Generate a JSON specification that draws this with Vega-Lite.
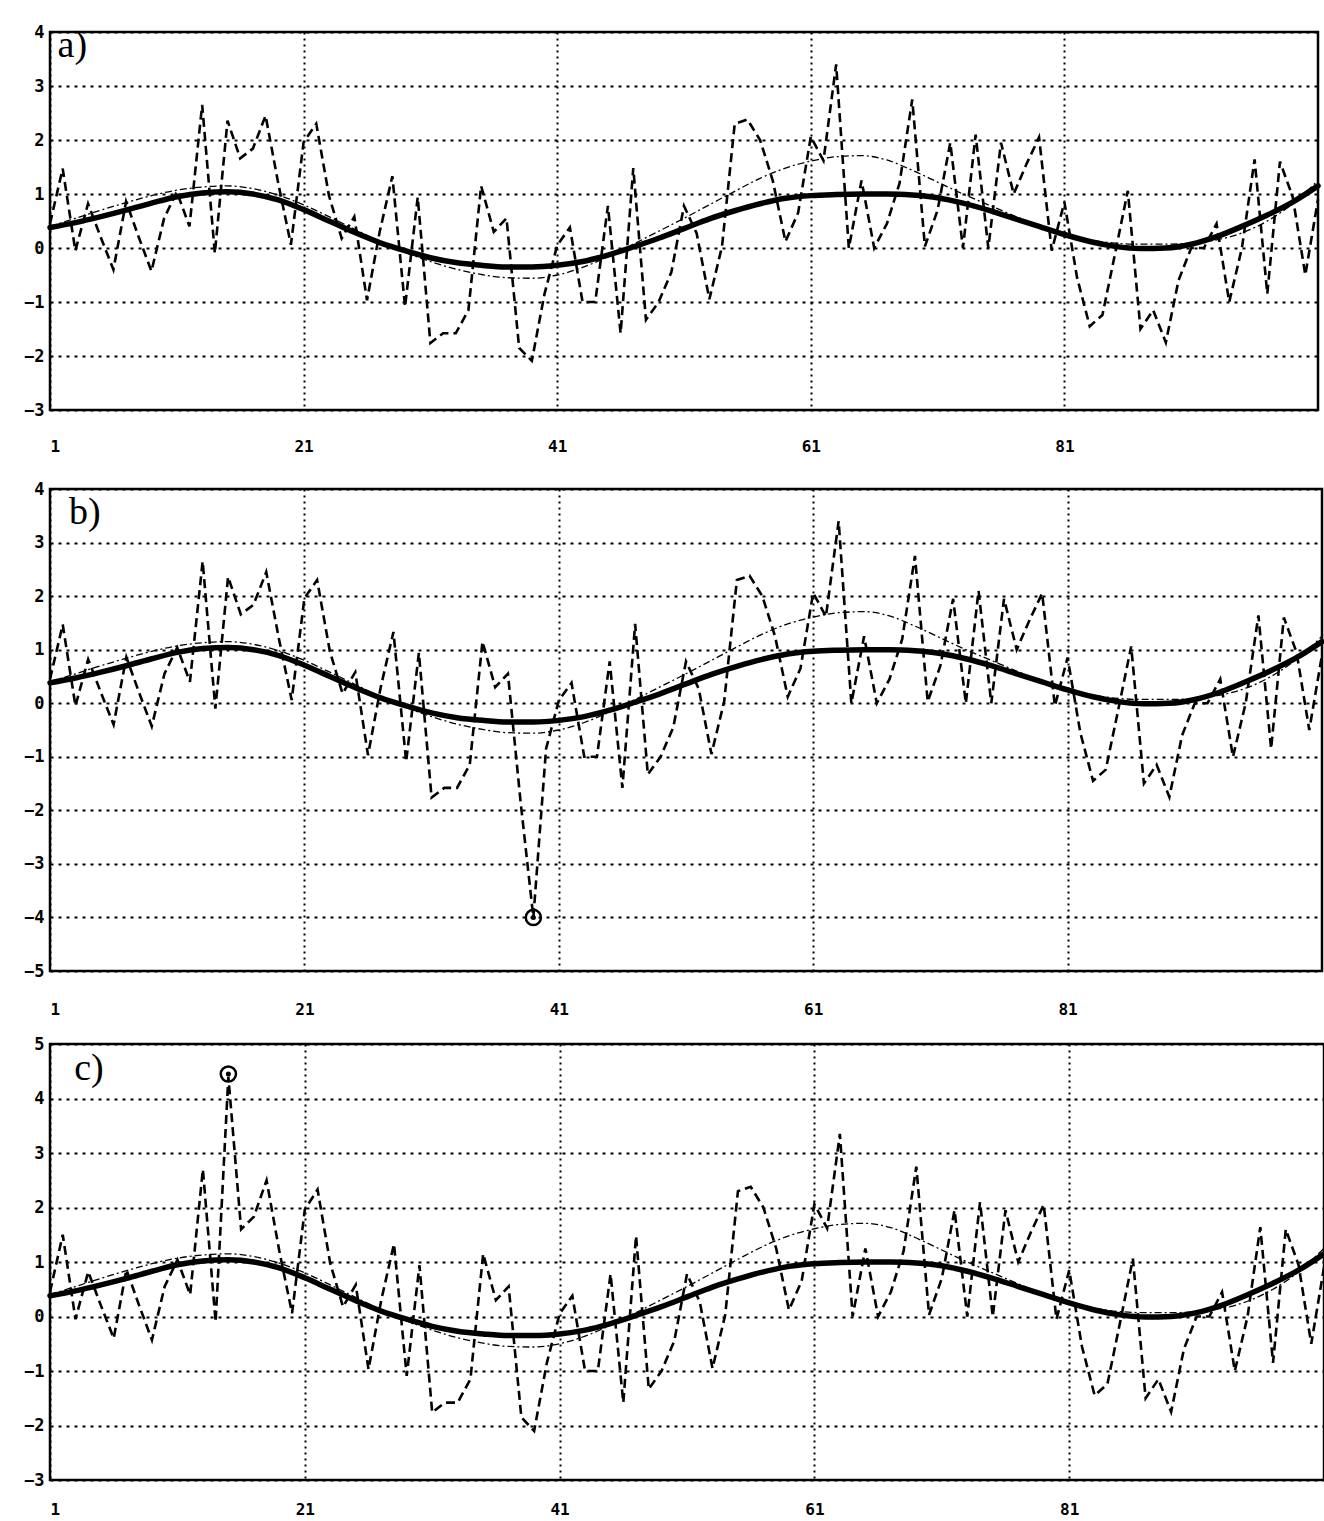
{
  "$schema": "https://vega.github.io/schema/vega-lite/v6.json",
  "background": "white",
  "padding": {"left": 4, "top": 21, "right": 0, "bottom": 0},
  "spacing": 14,
  "config": {
    "view": {"stroke": "black", "strokeWidth": 2.5},
    "axis": {
      "title": null,
      "grid": true,
      "gridColor": "black",
      "gridOpacity": 1,
      "gridWidth": 2,
      "domain": false,
      "ticks": false,
      "labelColor": "black",
      "labelFont": "DejaVu Sans Mono",
      "labelFontWeight": "bold",
      "format": "d"
    },
    "axisX": {"gridDash": [2, 4], "labelFontSize": 16, "labelFont": "DejaVu Sans Mono", "labelFontWeight": "bold"},
    "axisY": {"gridDash": [3, 5], "labelPadding": 6, "labelFontSize": 17, "labelFont": "DejaVu Sans Mono", "labelFontWeight": "bold"}
  },
  "datasets": {
    "noisy": [
      {"x":1,"a":0.45,"b":0.45,"c":0.45},
      {"x":2,"a":1.47,"b":1.47,"c":1.5},
      {"x":3,"a":-0.05,"b":-0.05,"c":-0.05},
      {"x":4,"a":0.82,"b":0.82,"c":0.82},
      {"x":5,"a":0.2,"b":0.2,"c":0.2},
      {"x":6,"a":-0.4,"b":-0.4,"c":-0.4},
      {"x":7,"a":0.86,"b":0.86,"c":0.86},
      {"x":8,"a":0.2,"b":0.2,"c":0.2},
      {"x":9,"a":-0.43,"b":-0.43,"c":-0.43},
      {"x":10,"a":0.55,"b":0.55,"c":0.55},
      {"x":11,"a":1.04,"b":1.04,"c":1.04},
      {"x":12,"a":0.4,"b":0.4,"c":0.4},
      {"x":13,"a":2.65,"b":2.65,"c":2.7},
      {"x":14,"a":-0.1,"b":-0.1,"c":-0.1},
      {"x":15,"a":2.36,"b":2.36,"c":4.4},
      {"x":16,"a":1.66,"b":1.66,"c":1.6},
      {"x":17,"a":1.84,"b":1.84,"c":1.83},
      {"x":18,"a":2.45,"b":2.45,"c":2.5},
      {"x":19,"a":1.2,"b":1.2,"c":1.2},
      {"x":20,"a":0.06,"b":0.06,"c":0.06},
      {"x":21,"a":1.96,"b":1.96,"c":1.96},
      {"x":22,"a":2.3,"b":2.3,"c":2.33},
      {"x":23,"a":0.97,"b":0.97,"c":0.97},
      {"x":24,"a":0.18,"b":0.18,"c":0.18},
      {"x":25,"a":0.58,"b":0.58,"c":0.58},
      {"x":26,"a":-0.97,"b":-0.97,"c":-0.97},
      {"x":27,"a":0.3,"b":0.3,"c":0.3},
      {"x":28,"a":1.33,"b":1.33,"c":1.33},
      {"x":29,"a":-1.09,"b":-1.09,"c":-1.09},
      {"x":30,"a":0.94,"b":0.94,"c":0.94},
      {"x":31,"a":-1.76,"b":-1.76,"c":-1.76},
      {"x":32,"a":-1.58,"b":-1.58,"c":-1.58},
      {"x":33,"a":-1.58,"b":-1.58,"c":-1.58},
      {"x":34,"a":-1.15,"b":-1.15,"c":-1.15},
      {"x":35,"a":1.15,"b":1.15,"c":1.15},
      {"x":36,"a":0.3,"b":0.3,"c":0.3},
      {"x":37,"a":0.55,"b":0.55,"c":0.55},
      {"x":38,"a":-1.85,"b":-1.85,"c":-1.85},
      {"x":39,"a":-2.09,"b":-4.0,"c":-2.1},
      {"x":40,"a":-0.85,"b":-0.85,"c":-0.85},
      {"x":41,"a":0.05,"b":0.05,"c":0.05},
      {"x":42,"a":0.38,"b":0.38,"c":0.38},
      {"x":43,"a":-1.0,"b":-1.0,"c":-1.0},
      {"x":44,"a":-1.0,"b":-1.0,"c":-1.0},
      {"x":45,"a":0.78,"b":0.78,"c":0.78},
      {"x":46,"a":-1.58,"b":-1.58,"c":-1.58},
      {"x":47,"a":1.48,"b":1.48,"c":1.48},
      {"x":48,"a":-1.33,"b":-1.33,"c":-1.33},
      {"x":49,"a":-1.0,"b":-1.0,"c":-1.0},
      {"x":50,"a":-0.45,"b":-0.45,"c":-0.45},
      {"x":51,"a":0.78,"b":0.78,"c":0.78},
      {"x":52,"a":0.27,"b":0.27,"c":0.27},
      {"x":53,"a":-0.95,"b":-0.95,"c":-0.95},
      {"x":54,"a":0.03,"b":0.03,"c":0.03},
      {"x":55,"a":2.3,"b":2.3,"c":2.3},
      {"x":56,"a":2.38,"b":2.38,"c":2.38},
      {"x":57,"a":2.0,"b":2.0,"c":2.0},
      {"x":58,"a":1.25,"b":1.25,"c":1.25},
      {"x":59,"a":0.12,"b":0.12,"c":0.12},
      {"x":60,"a":0.65,"b":0.65,"c":0.65},
      {"x":61,"a":2.06,"b":2.06,"c":2.06},
      {"x":62,"a":1.62,"b":1.62,"c":1.62},
      {"x":63,"a":3.4,"b":3.4,"c":3.35},
      {"x":64,"a":0.0,"b":0.0,"c":0.0},
      {"x":65,"a":1.25,"b":1.25,"c":1.25},
      {"x":66,"a":0.0,"b":0.0,"c":0.0},
      {"x":67,"a":0.45,"b":0.45,"c":0.45},
      {"x":68,"a":1.2,"b":1.2,"c":1.2},
      {"x":69,"a":2.75,"b":2.75,"c":2.75},
      {"x":70,"a":0.03,"b":0.03,"c":0.03},
      {"x":71,"a":0.7,"b":0.7,"c":0.7},
      {"x":72,"a":1.95,"b":1.95,"c":1.95},
      {"x":73,"a":0.0,"b":0.0,"c":0.0},
      {"x":74,"a":2.1,"b":2.1,"c":2.1},
      {"x":75,"a":0.0,"b":0.0,"c":0.0},
      {"x":76,"a":1.95,"b":1.95,"c":1.95},
      {"x":77,"a":1.0,"b":1.0,"c":1.0},
      {"x":78,"a":1.55,"b":1.55,"c":1.55},
      {"x":79,"a":2.05,"b":2.05,"c":2.05},
      {"x":80,"a":-0.05,"b":-0.05,"c":-0.05},
      {"x":81,"a":0.85,"b":0.85,"c":0.85},
      {"x":82,"a":-0.55,"b":-0.55,"c":-0.55},
      {"x":83,"a":-1.45,"b":-1.45,"c":-1.45},
      {"x":84,"a":-1.24,"b":-1.24,"c":-1.24},
      {"x":85,"a":-0.1,"b":-0.1,"c":-0.1},
      {"x":86,"a":1.06,"b":1.06,"c":1.06},
      {"x":87,"a":-1.5,"b":-1.5,"c":-1.5},
      {"x":88,"a":-1.15,"b":-1.15,"c":-1.15},
      {"x":89,"a":-1.75,"b":-1.75,"c":-1.75},
      {"x":90,"a":-0.6,"b":-0.6,"c":-0.6},
      {"x":91,"a":0.0,"b":0.0,"c":0.0},
      {"x":92,"a":0.0,"b":0.0,"c":0.0},
      {"x":93,"a":0.45,"b":0.45,"c":0.45},
      {"x":94,"a":-1.0,"b":-1.0,"c":-1.0},
      {"x":95,"a":0.0,"b":0.0,"c":0.0},
      {"x":96,"a":1.64,"b":1.64,"c":1.64},
      {"x":97,"a":-0.85,"b":-0.85,"c":-0.85},
      {"x":98,"a":1.6,"b":1.6,"c":1.6},
      {"x":99,"a":0.95,"b":0.95,"c":0.95},
      {"x":100,"a":-0.5,"b":-0.5,"c":-0.5},
      {"x":101,"a":0.9,"b":0.9,"c":0.9}
    ],
    "fit": [
      {"x":1,"thick":0.38,"thin":0.40},
      {"x":3,"thick":0.47,"thin":0.55},
      {"x":5,"thick":0.58,"thin":0.70},
      {"x":7,"thick":0.70,"thin":0.84},
      {"x":9,"thick":0.83,"thin":0.97},
      {"x":11,"thick":0.95,"thin":1.07},
      {"x":13,"thick":1.02,"thin":1.13},
      {"x":15,"thick":1.04,"thin":1.15},
      {"x":17,"thick":1.00,"thin":1.10},
      {"x":19,"thick":0.89,"thin":0.98},
      {"x":21,"thick":0.71,"thin":0.80},
      {"x":23,"thick":0.50,"thin":0.58},
      {"x":25,"thick":0.29,"thin":0.35},
      {"x":27,"thick":0.10,"thin":0.12},
      {"x":29,"thick":-0.05,"thin":-0.08},
      {"x":31,"thick":-0.18,"thin":-0.25},
      {"x":33,"thick":-0.27,"thin":-0.39},
      {"x":35,"thick":-0.32,"thin":-0.49},
      {"x":37,"thick":-0.35,"thin":-0.55},
      {"x":39,"thick":-0.35,"thin":-0.56},
      {"x":41,"thick":-0.32,"thin":-0.50},
      {"x":43,"thick":-0.25,"thin":-0.36},
      {"x":45,"thick":-0.13,"thin":-0.16},
      {"x":47,"thick":0.02,"thin":0.07},
      {"x":49,"thick":0.18,"thin":0.31},
      {"x":51,"thick":0.36,"thin":0.55},
      {"x":53,"thick":0.54,"thin":0.80},
      {"x":55,"thick":0.69,"thin":1.05},
      {"x":57,"thick":0.82,"thin":1.29},
      {"x":59,"thick":0.92,"thin":1.48},
      {"x":61,"thick":0.97,"thin":1.61},
      {"x":63,"thick":0.99,"thin":1.69},
      {"x":65,"thick":1.00,"thin":1.71},
      {"x":67,"thick":1.00,"thin":1.63},
      {"x":69,"thick":0.98,"thin":1.44},
      {"x":71,"thick":0.93,"thin":1.22},
      {"x":73,"thick":0.83,"thin":1.00},
      {"x":75,"thick":0.70,"thin":0.80},
      {"x":77,"thick":0.55,"thin":0.60},
      {"x":79,"thick":0.40,"thin":0.41},
      {"x":81,"thick":0.25,"thin":0.26},
      {"x":83,"thick":0.12,"thin":0.15},
      {"x":85,"thick":0.03,"thin":0.09},
      {"x":87,"thick":-0.01,"thin":0.07},
      {"x":89,"thick":0.00,"thin":0.07},
      {"x":91,"thick":0.07,"thin":0.09},
      {"x":93,"thick":0.21,"thin":0.15},
      {"x":95,"thick":0.40,"thin":0.28},
      {"x":97,"thick":0.61,"thin":0.50},
      {"x":99,"thick":0.85,"thin":0.82},
      {"x":101,"thick":1.15,"thin":1.25}
    ],
    "outliers": [
      {"panel":"b","x":39,"y":-4.0},
      {"panel":"c","x":15,"y":4.45}
    ],
    "labels": [
      {"panel":"a","x":1.6,"y":3.75,"text":"a)"},
      {"panel":"b","x":2.5,"y":3.55,"text":"b)"},
      {"panel":"c","x":2.9,"y":4.55,"text":"c)"}
    ]
  },
  "vconcat": [
    {
      "width": 1268,
      "height": 378,
      "layer": [
        {
          "data": {"name": "noisy"},
          "mark": {"type": "line", "color": "black", "strokeWidth": 2.6, "strokeDash": [9, 5]},
          "encoding": {
            "x": {"field": "x", "type": "quantitative", "scale": {"domain": [1, 101], "nice": false, "zero": false}, "axis": {"values": [1, 21, 41, 61, 81], "labelPadding": 28, "minExtent": 52}},
            "y": {"field": "a", "type": "quantitative", "scale": {"domain": [-3, 4], "nice": false, "zero": false}, "axis": {"values": [-3, -2, -1, 0, 1, 2, 3, 4], "minExtent": 44}}
          }
        },
        {
          "data": {"name": "fit"},
          "mark": {"type": "line", "color": "black", "strokeWidth": 1.3, "strokeDash": [7, 3, 2, 3], "interpolate": "monotone"},
          "encoding": {
            "x": {"field": "x", "type": "quantitative"},
            "y": {"field": "thin", "type": "quantitative"}
          }
        },
        {
          "data": {"name": "fit"},
          "mark": {"type": "line", "color": "black", "strokeWidth": 5.5, "strokeCap": "round", "interpolate": "monotone"},
          "encoding": {
            "x": {"field": "x", "type": "quantitative"},
            "y": {"field": "thick", "type": "quantitative"}
          }
        },
        {
          "data": {"name": "labels"},
          "transform": [{"filter": "datum.panel == 'a'"}],
          "mark": {"type": "text", "font": "Liberation Serif", "fontSize": 38, "align": "left", "baseline": "middle", "color": "black"},
          "encoding": {
            "x": {"field": "x", "type": "quantitative"},
            "y": {"field": "y", "type": "quantitative"},
            "text": {"field": "text"}
          }
        }
      ]
    },
    {
      "width": 1272,
      "height": 482,
      "layer": [
        {
          "data": {"name": "noisy"},
          "mark": {"type": "line", "color": "black", "strokeWidth": 2.6, "strokeDash": [9, 5]},
          "encoding": {
            "x": {"field": "x", "type": "quantitative", "scale": {"domain": [1, 101], "nice": false, "zero": false}, "axis": {"values": [1, 21, 41, 61, 81], "labelPadding": 30}},
            "y": {"field": "b", "type": "quantitative", "scale": {"domain": [-5, 4], "nice": false, "zero": false}, "axis": {"values": [-5, -4, -3, -2, -1, 0, 1, 2, 3, 4], "minExtent": 44}}
          }
        },
        {
          "data": {"name": "fit"},
          "mark": {"type": "line", "color": "black", "strokeWidth": 1.3, "strokeDash": [7, 3, 2, 3], "interpolate": "monotone"},
          "encoding": {
            "x": {"field": "x", "type": "quantitative"},
            "y": {"field": "thin", "type": "quantitative"}
          }
        },
        {
          "data": {"name": "fit"},
          "mark": {"type": "line", "color": "black", "strokeWidth": 5.5, "strokeCap": "round", "interpolate": "monotone"},
          "encoding": {
            "x": {"field": "x", "type": "quantitative"},
            "y": {"field": "thick", "type": "quantitative"}
          }
        },
        {
          "data": {"name": "outliers"},
          "transform": [{"filter": "datum.panel == 'b'"}],
          "mark": {"type": "point", "shape": "circle", "filled": false, "size": 230, "stroke": "black", "strokeWidth": 2.5, "opacity": 1},
          "encoding": {
            "x": {"field": "x", "type": "quantitative"},
            "y": {"field": "y", "type": "quantitative"}
          }
        },
        {
          "data": {"name": "outliers"},
          "transform": [{"filter": "datum.panel == 'b'"}],
          "mark": {"type": "point", "shape": "circle", "filled": true, "size": 25, "color": "black", "opacity": 1},
          "encoding": {
            "x": {"field": "x", "type": "quantitative"},
            "y": {"field": "y", "type": "quantitative"}
          }
        },
        {
          "data": {"name": "labels"},
          "transform": [{"filter": "datum.panel == 'b'"}],
          "mark": {"type": "text", "font": "Liberation Serif", "fontSize": 38, "align": "left", "baseline": "middle", "color": "black"},
          "encoding": {
            "x": {"field": "x", "type": "quantitative"},
            "y": {"field": "y", "type": "quantitative"},
            "text": {"field": "text"}
          }
        }
      ]
    },
    {
      "width": 1274,
      "height": 436,
      "layer": [
        {
          "data": {"name": "noisy"},
          "mark": {"type": "line", "color": "black", "strokeWidth": 2.6, "strokeDash": [9, 5]},
          "encoding": {
            "x": {"field": "x", "type": "quantitative", "scale": {"domain": [1, 101], "nice": false, "zero": false}, "axis": {"values": [1, 21, 41, 61, 81], "labelPadding": 21}},
            "y": {"field": "c", "type": "quantitative", "scale": {"domain": [-3, 5], "nice": false, "zero": false}, "axis": {"values": [-3, -2, -1, 0, 1, 2, 3, 4, 5], "minExtent": 44}}
          }
        },
        {
          "data": {"name": "fit"},
          "mark": {"type": "line", "color": "black", "strokeWidth": 1.3, "strokeDash": [7, 3, 2, 3], "interpolate": "monotone"},
          "encoding": {
            "x": {"field": "x", "type": "quantitative"},
            "y": {"field": "thin", "type": "quantitative"}
          }
        },
        {
          "data": {"name": "fit"},
          "mark": {"type": "line", "color": "black", "strokeWidth": 5.5, "strokeCap": "round", "interpolate": "monotone"},
          "encoding": {
            "x": {"field": "x", "type": "quantitative"},
            "y": {"field": "thick", "type": "quantitative"}
          }
        },
        {
          "data": {"name": "outliers"},
          "transform": [{"filter": "datum.panel == 'c'"}],
          "mark": {"type": "point", "shape": "circle", "filled": false, "size": 230, "stroke": "black", "strokeWidth": 2.5, "opacity": 1},
          "encoding": {
            "x": {"field": "x", "type": "quantitative"},
            "y": {"field": "y", "type": "quantitative"}
          }
        },
        {
          "data": {"name": "outliers"},
          "transform": [{"filter": "datum.panel == 'c'"}],
          "mark": {"type": "point", "shape": "circle", "filled": true, "size": 25, "color": "black", "opacity": 1},
          "encoding": {
            "x": {"field": "x", "type": "quantitative"},
            "y": {"field": "y", "type": "quantitative"}
          }
        },
        {
          "data": {"name": "labels"},
          "transform": [{"filter": "datum.panel == 'c'"}],
          "mark": {"type": "text", "font": "Liberation Serif", "fontSize": 38, "align": "left", "baseline": "middle", "color": "black"},
          "encoding": {
            "x": {"field": "x", "type": "quantitative"},
            "y": {"field": "y", "type": "quantitative"},
            "text": {"field": "text"}
          }
        }
      ]
    }
  ]
}
